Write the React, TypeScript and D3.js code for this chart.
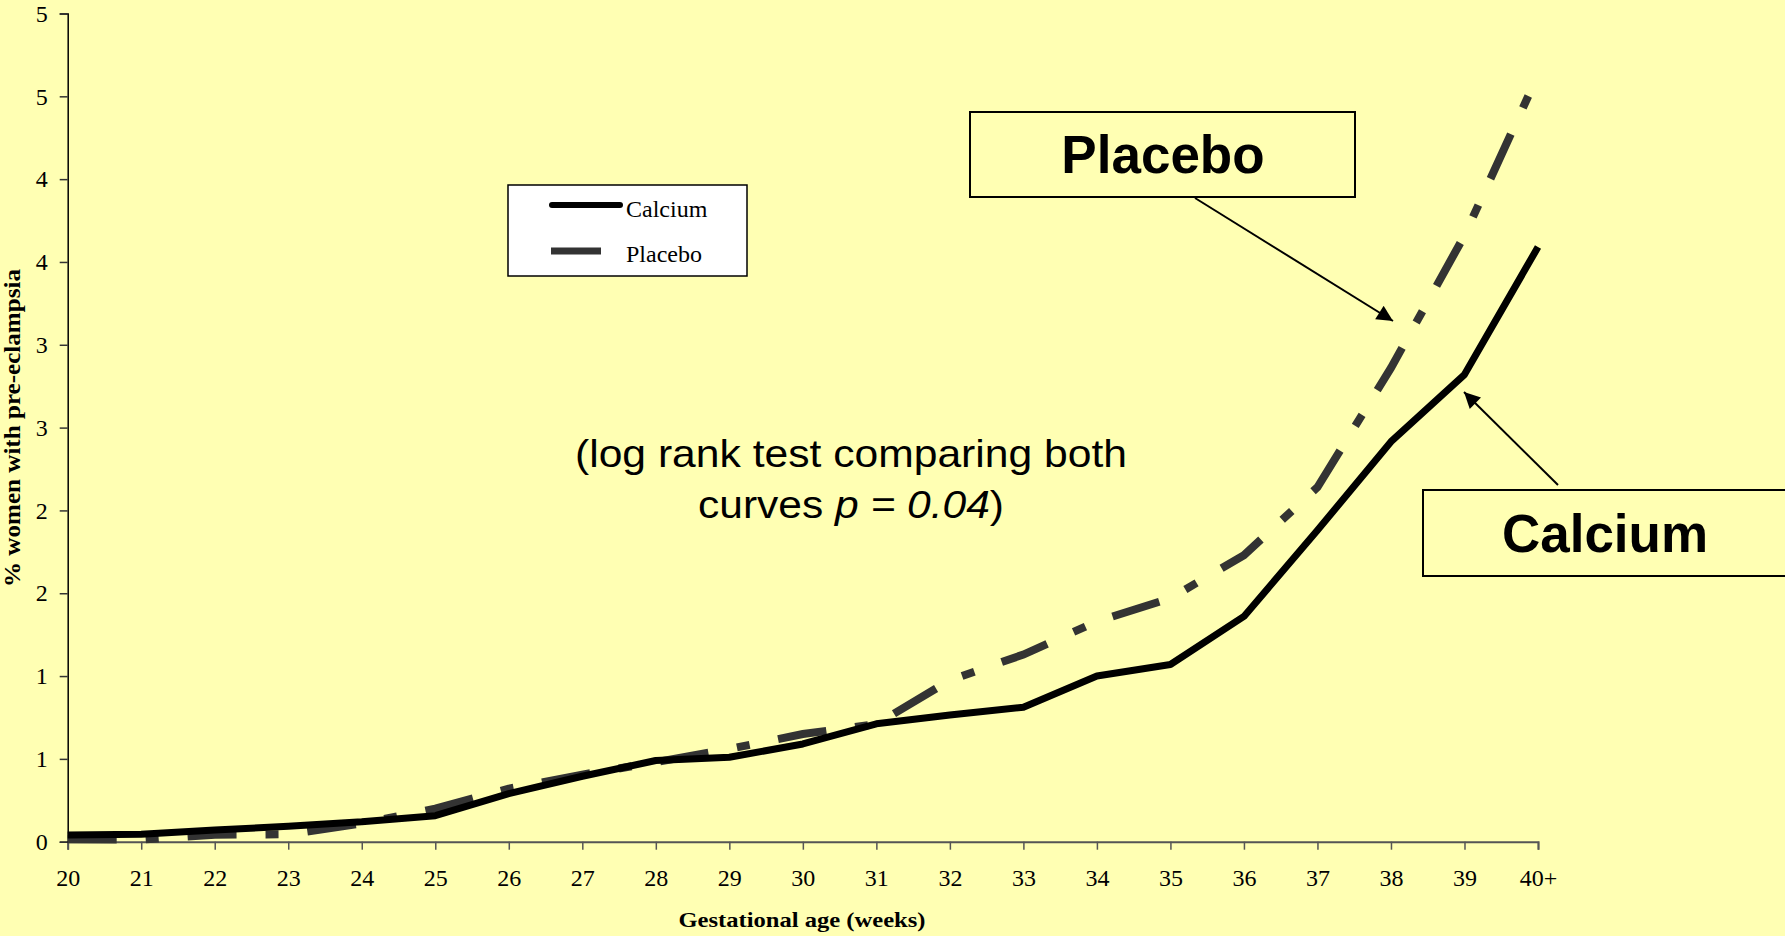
import { useEffect, useRef } from 'react';
import * as d3 from 'd3';

// gestational weeks (x) and tick labels
const weeks = [20, 21, 22, 23, 24, 25, 26, 27, 28, 29, 30, 31, 32, 33, 34, 35, 36, 37, 38, 39, 40];
const weekLabels = ['20', '21', '22', '23', '24', '25', '26', '27', '28', '29', '30', '31', '32', '33', '34', '35', '36', '37', '38', '39', '40+'];

// % women with pre-eclampsia
const calcium = [0.04, 0.045, 0.07, 0.093, 0.12, 0.157, 0.29, 0.395, 0.49, 0.51, 0.59, 0.712, 0.765, 0.812, 1.0, 1.07, 1.36, 1.88, 2.415, 2.82, 3.59];
const placebo = [0.015, 0.013, 0.042, 0.045, 0.11, 0.2, 0.32, 0.405, 0.48, 0.56, 0.65, 0.71, 0.975, 1.13, 1.33, 1.47, 1.73, 2.14, 2.86, 3.66, 4.63];

const yTicks = [0, 0.5, 1, 1.5, 2, 2.5, 3, 3.5, 4, 4.5, 5];
const yTickLabels = ['0', '1', '1', '2', '2', '3', '3', '4', '4', '5', '5'];

const W = 1785;
const H = 936;
const BG = '#FFFFB3';

export default function App() {
  const svgRef = useRef<SVGSVGElement>(null);

  useEffect(() => {
    if (!svgRef.current) return;
    const svg = d3.select(svgRef.current);
    svg.selectAll('*').remove();

    const x = d3.scaleLinear().domain([20, 40]).range([67.7, 1538]);
    const y = d3.scaleLinear().domain([0, 5]).range([841.7, 13.5]);

    svg.append('rect').attr('width', W).attr('height', H).attr('fill', BG);

    const defs = svg.append('defs');
    defs
      .append('marker')
      .attr('id', 'arrow')
      .attr('viewBox', '0 0 10 10')
      .attr('refX', 10)
      .attr('refY', 5)
      .attr('markerWidth', 9)
      .attr('markerHeight', 8)
      .attr('markerUnits', 'strokeWidth')
      .attr('orient', 'auto')
      .append('path')
      .attr('d', 'M0,0 L10,5 L0,10 Z')
      .attr('fill', '#000');

    // x axis
    const xAxis = svg
      .append('g')
      .attr('transform', `translate(0,${y(0)})`)
      .call(
        d3
          .axisBottom(x)
          .tickValues(weeks)
          .tickSize(8)
          .tickFormat((d, i) => weekLabels[i])
      );
    xAxis.select('.domain').attr('stroke', '#555').attr('stroke-width', 2);
    xAxis.selectAll('.tick line').attr('stroke', '#555').attr('stroke-width', 1.5);
    xAxis
      .selectAll('.tick text')
      .attr('y', 0)
      .attr('dy', 0)
      .attr('transform', 'translate(0,44)')
      .style('font-family', '"Liberation Serif", "Times New Roman", serif')
      .style('font-size', '24px')
      .style('fill', '#000');

    // y axis
    const yAxis = svg
      .append('g')
      .attr('transform', `translate(${x(20)},0)`)
      .call(
        d3
          .axisLeft(y)
          .tickValues(yTicks)
          .tickSize(8)
          .tickPadding(12)
          .tickFormat((d, i) => yTickLabels[i])
      );
    yAxis.select('.domain').attr('stroke', '#000').attr('stroke-width', 1.5);
    yAxis.selectAll('.tick line').attr('stroke', '#333').attr('stroke-width', 1.5);
    yAxis
      .selectAll('.tick text')
      .attr('dy', '0.32em')
      .style('font-family', '"Liberation Serif", "Times New Roman", serif')
      .style('font-size', '24px')
      .style('fill', '#000');

    // series
    const line = d3
      .line<number>()
      .x((d, i) => x(weeks[i]))
      .y((d) => y(d));

    svg
      .append('path')
      .datum(placebo)
      .attr('fill', 'none')
      .attr('stroke', '#333')
      .attr('stroke-width', 8)
      .attr('stroke-dasharray', '49 29 13 29')
      .attr('d', line);

    svg
      .append('path')
      .datum(calcium)
      .attr('fill', 'none')
      .attr('stroke', '#000')
      .attr('stroke-width', 7)
      .attr('stroke-linejoin', 'round')
      .attr('d', line);

    // axis titles
    svg
      .append('text')
      .attr('transform', 'translate(20,428) rotate(-90)')
      .attr('text-anchor', 'middle')
      .style('font-family', '"Liberation Serif", "Times New Roman", serif')
      .style('font-weight', 'bold')
      .style('font-size', '23px')
      .attr('textLength', 318)
      .attr('lengthAdjust', 'spacingAndGlyphs')
      .text('%  women with pre-eclampsia');

    svg
      .append('text')
      .attr('x', 802)
      .attr('y', 927)
      .attr('text-anchor', 'middle')
      .style('font-family', '"Liberation Serif", "Times New Roman", serif')
      .style('font-weight', 'bold')
      .style('font-size', '21px')
      .attr('textLength', 247)
      .attr('lengthAdjust', 'spacingAndGlyphs')
      .text('Gestational age (weeks)');

    // legend
    const legend = svg.append('g');
    legend
      .append('rect')
      .attr('x', 508)
      .attr('y', 185)
      .attr('width', 239)
      .attr('height', 91)
      .attr('fill', '#fff')
      .attr('stroke', '#000')
      .attr('stroke-width', 1.5);
    legend
      .append('line')
      .attr('x1', 552)
      .attr('x2', 620)
      .attr('y1', 205)
      .attr('y2', 205)
      .attr('stroke', '#000')
      .attr('stroke-width', 6)
      .attr('stroke-linecap', 'round');
    legend
      .append('line')
      .attr('x1', 551)
      .attr('x2', 601)
      .attr('y1', 251)
      .attr('y2', 251)
      .attr('stroke', '#333')
      .attr('stroke-width', 7);
    [
      { label: 'Calcium', y: 217 },
      { label: 'Placebo', y: 262 },
    ].forEach((item) => {
      legend
        .append('text')
        .attr('x', 626)
        .attr('y', item.y)
        .style('font-family', '"Liberation Serif", "Times New Roman", serif')
        .style('font-size', '24px')
        .text(item.label);
    });

    // log rank note
    const note = svg
      .append('g')
      .style('font-family', '"Liberation Sans", Arial, sans-serif')
      .style('font-size', '39px')
      .attr('text-anchor', 'middle');
    note
      .append('text')
      .attr('x', 851)
      .attr('y', 467)
      .attr('textLength', 552)
      .attr('lengthAdjust', 'spacingAndGlyphs')
      .text('(log rank test comparing both');
    const l2 = note
      .append('text')
      .attr('x', 851)
      .attr('y', 518)
      .attr('textLength', 306)
      .attr('lengthAdjust', 'spacingAndGlyphs');
    l2.append('tspan').text('curves ');
    l2.append('tspan').style('font-style', 'italic').text('p = 0.04');
    l2.append('tspan').text(')');

    // callout boxes
    const callouts = [
      { label: 'Placebo', x: 970, y: 112, w: 385, h: 85, tx: 1163, ty: 173 },
      { label: 'Calcium', x: 1423, y: 490, w: 380, h: 86, tx: 1605, ty: 552 },
    ];
    callouts.forEach((c) => {
      svg
        .append('rect')
        .attr('x', c.x)
        .attr('y', c.y)
        .attr('width', c.w)
        .attr('height', c.h)
        .attr('fill', BG)
        .attr('stroke', '#000')
        .attr('stroke-width', 2);
      svg
        .append('text')
        .attr('x', c.tx)
        .attr('y', c.ty)
        .attr('text-anchor', 'middle')
        .style('font-family', '"Liberation Sans", Arial, sans-serif')
        .style('font-weight', 'bold')
        .style('font-size', '53px')
        .text(c.label);
    });

    // arrows
    const arrows = [
      { x1: 1195, y1: 198, x2: 1393, y2: 321 },
      { x1: 1558, y1: 485, x2: 1464, y2: 392 },
    ];
    arrows.forEach((a) => {
      svg
        .append('line')
        .attr('x1', a.x1)
        .attr('y1', a.y1)
        .attr('x2', a.x2)
        .attr('y2', a.y2)
        .attr('stroke', '#000')
        .attr('stroke-width', 2)
        .attr('marker-end', 'url(#arrow)');
    });
  }, []);

  return (
    <svg
      ref={svgRef}
      width={W}
      height={H}
      style={{ position: 'absolute', left: 0, top: 0, display: 'block' }}
    ></svg>
  );
}
